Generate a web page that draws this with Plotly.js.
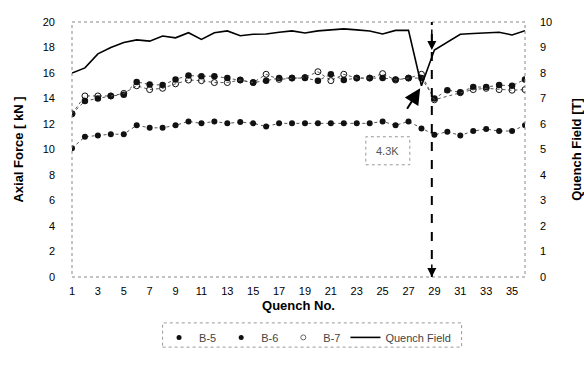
<!DOCTYPE html>
<html>
<head>
<meta charset="utf-8">
<script src="https://cdn.plot.ly/plotly-3.0.1.min.js"></script>
<style>html,body{margin:0;padding:0;background:#fff;}#chart{width:584px;height:370px;}</style>
</head>
<body>
<div id="chart"></div>
<script>
const quench = [1,2,3,4,5,6,7,8,9,10,11,12,13,14,15,16,17,18,19,20,21,22,23,24,25,26,27,28,29,30,31,32,33,34,35,36];
const b5 = [10.1,11.0,11.1,11.2,11.2,11.9,11.7,11.7,11.9,12.2,12.05,12.2,12.05,12.15,12.05,11.8,12.05,12.05,12.05,12.05,12.05,12.05,12.05,12.05,12.2,11.9,12.2,11.65,11.15,11.4,11.1,11.45,11.6,11.45,11.45,11.9];
const b6 = [12.8,13.8,14.0,14.2,14.3,15.3,15.1,15.05,15.5,15.8,15.75,15.75,15.6,15.45,15.25,15.4,15.6,15.6,15.6,15.4,15.9,15.45,15.6,15.6,15.6,15.5,15.6,15.6,14.0,14.65,14.5,14.9,14.9,15.05,15.0,15.5];
const b7 = [12.8,14.2,14.2,14.2,14.4,15.0,14.7,14.8,15.15,15.45,15.4,15.25,15.25,15.45,15.25,15.9,15.5,15.6,15.65,16.1,15.4,15.9,15.6,15.6,15.95,15.45,15.6,15.9,13.9,null,14.45,14.7,14.8,14.7,14.65,14.7];
const field = [8.0,8.2,8.75,9.0,9.2,9.3,9.25,9.45,9.38,9.58,9.32,9.58,9.65,9.46,9.52,9.53,9.6,9.65,9.57,9.65,9.69,9.73,9.69,9.65,9.53,9.67,9.67,7.5,8.9,9.2,9.52,9.55,9.58,9.6,9.49,9.66];
const xTicks = [1,3,5,7,9,11,13,15,17,19,21,23,25,27,29,31,33,35];
const seriesNames = ['B-5','B-6','B-7','Quench Field'];
const quenchMarker = 28.8;

const F = 'Liberation Sans, Arial, sans-serif';
const dots = {color:'#555', width:1, dash:'dot'};
const traces = [
  {x:quench, y:b5, name:seriesNames[0], type:'scatter', mode:'lines+markers', line:dots, showlegend:false,
   marker:{symbol:'circle', size:6, color:'#111'}},
  {x:quench, y:b6, name:seriesNames[1], type:'scatter', mode:'lines+markers', line:dots, showlegend:false,
   marker:{symbol:'circle', size:6.5, color:'#111'}},
  {x:quench, y:b7, name:seriesNames[2], type:'scatter', mode:'lines+markers', line:dots, connectgaps:true, showlegend:false,
   marker:{symbol:'circle-open', size:6, color:'#111', line:{width:1}}},
  {x:quench, y:field, name:seriesNames[3], type:'scatter', mode:'lines', yaxis:'y2', showlegend:false,
   line:{color:'#000', width:1.6}},
  // legend-only entries (markers without connecting lines, as in the original key)
  {x:[null], y:[null], name:seriesNames[0], type:'scatter', mode:'markers', marker:{symbol:'circle', size:5, color:'#111'}},
  {x:[null], y:[null], name:seriesNames[1], type:'scatter', mode:'markers', marker:{symbol:'circle', size:5, color:'#111'}},
  {x:[null], y:[null], name:seriesNames[2], type:'scatter', mode:'markers', marker:{symbol:'circle-open', size:5, color:'#666', line:{width:1}}},
  {x:[null], y:[null], name:seriesNames[3], type:'scatter', mode:'lines', line:{color:'#000', width:1.6}}
];

const layout = {
  width:584, height:370,
  margin:{l:72, r:59, t:22, b:93},
  paper_bgcolor:'#fff', plot_bgcolor:'#fff',
  font:{family:F, size:11, color:'#000'},
  showlegend:true,
  legend:{orientation:'h', x:0.52, xanchor:'center', y:-0.18, yanchor:'top',
          font:{family:F, size:11, color:'#444'}, bgcolor:'rgba(0,0,0,0)', borderwidth:0,
          itemwidth:30, tracegroupgap:0},
  xaxis:{range:[1,36], tickmode:'array', tickvals:xTicks, ticktext:xTicks.map(String),
         showgrid:false, zeroline:false, showline:false, ticks:'', ticklabelstandoff:6,
         tickfont:{family:F, size:11, color:'#000'},
         title:{text:'<b>Quench No.</b>', font:{family:F, size:13, color:'#000'}, standoff:4}},
  yaxis:{range:[0,20], dtick:2, showgrid:false, zeroline:false, showline:false, ticks:'',
         ticklabelstandoff:16, tickfont:{family:F, size:11, color:'#000'},
         title:{text:'<b>Axial Force [ kN ]</b>', font:{family:F, size:13, color:'#000'}, standoff:16}},
  yaxis2:{range:[0,10], dtick:1, overlaying:'y', side:'right', showgrid:false, zeroline:false,
          showline:false, ticks:'', ticklabelstandoff:14, tickfont:{family:F, size:11, color:'#000'},
          title:{text:'<b>Quench Field [T]</b>', font:{family:F, size:13, color:'#000'}, standoff:20}},
  shapes:[
    {type:'rect', xref:'paper', yref:'paper', x0:0, x1:1, y0:0, y1:1, line:{color:'#888', width:1, dash:'dot'}},
    {type:'line', xref:'x', yref:'y', x0:quenchMarker, x1:quenchMarker, y0:0, y1:20, line:{color:'#000', width:2, dash:'dash'}},
    {type:'rect', xref:'x', yref:'y', x0:23.7, x1:27.1, y0:8.8, y1:11.0, line:{color:'#999', width:1, dash:'dot'}},
    {type:'rect', xref:'paper', yref:'paper', x0:0.2, x1:0.86, y0:-0.275, y1:-0.18, line:{color:'#999', width:1, dash:'dot'}}
  ],
  annotations:[
    {x:25.4, y:9.9, xref:'x', yref:'y', text:'4.3K', showarrow:false, font:{family:F, size:11, color:'#555'}},
    {x:27.9, y:14.8, xref:'x', yref:'y', text:'', showarrow:true, arrowhead:2, arrowsize:1.6, arrowwidth:2,
     arrowcolor:'#000', ax:-14, ay:22},
    {x:quenchMarker, y:0, xref:'x', yref:'y', text:'', showarrow:true, arrowhead:2, arrowsize:1.2, arrowwidth:1.5,
     arrowcolor:'#000', ax:0, ay:-14},
    {x:quenchMarker, y:17.8, xref:'x', yref:'y', text:'', showarrow:true, arrowhead:2, arrowsize:1.2, arrowwidth:1.5,
     arrowcolor:'#000', ax:0, ay:-22}
  ]
};
Plotly.newPlot('chart', traces, layout, {staticPlot:true, displayModeBar:false});
</script>
</body>
</html>
